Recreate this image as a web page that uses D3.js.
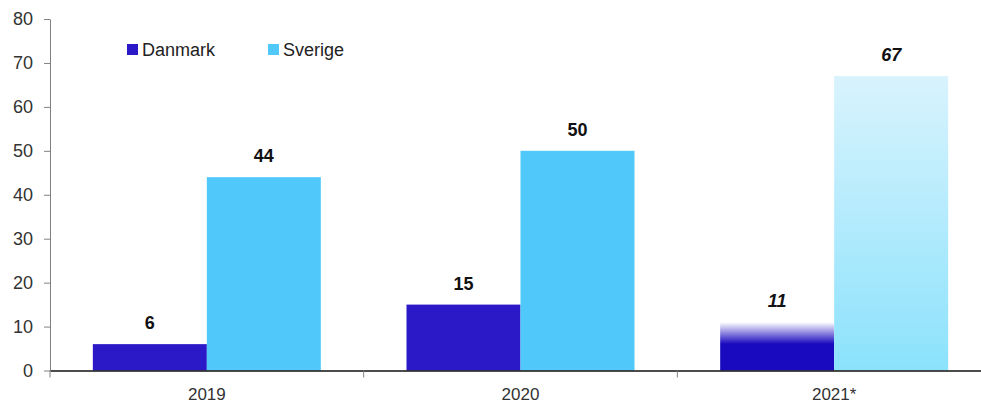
<!DOCTYPE html>
<html><head><meta charset="utf-8">
<script src="https://cdn.jsdelivr.net/npm/d3@7"></script>
<style>body{margin:0;background:#fff}svg{display:block;font-family:"Liberation Sans",Arial,sans-serif}</style>
</head><body><svg id="c" width="981" height="403"></svg>
<script>
const categories = ["2019", "2020", "2021*"];
const seriesNames = ["Danmark", "Sverige"];
const danmark = [6, 15, 11];
const sverige = [44, 50, 67];
const estimated = [false, false, true];
const yTicks = [0, 10, 20, 30, 40, 50, 60, 70, 80];

(function(){
const svg = d3.select("#c");
const mLeft = 50, mRight = 991, mTop = 19, mBottom = 370.5;
const x = d3.scaleBand().domain(categories).range([mLeft, mRight]).paddingInner(0).paddingOuter(0);
const x1 = d3.scaleBand().domain(seriesNames)
  .range([x.bandwidth()/2 - 114, x.bandwidth()/2 + 114]).paddingInner(0).paddingOuter(0);
const y = d3.scaleLinear().domain([0, 80]).range([mBottom, mTop]);

const defs = svg.append("defs");
const gD = defs.append("linearGradient").attr("id","gD").attr("x1",0).attr("y1",0).attr("x2",0).attr("y2",1);
gD.append("stop").attr("offset","0%").attr("stop-color","#ffffff");
gD.append("stop").attr("offset","45%").attr("stop-color","#1a0abf");
gD.append("stop").attr("offset","100%").attr("stop-color","#1a0abf");
const gS = defs.append("linearGradient").attr("id","gS").attr("x1",0).attr("y1",0).attr("x2",0).attr("y2",1);
gS.append("stop").attr("offset","0%").attr("stop-color","#d9f3fd");
gS.append("stop").attr("offset","100%").attr("stop-color","#8be2fc");

const colors = {Danmark:"#2b19c8", Sverige:"#50c9fa"};
const data = [];
categories.forEach((c,i)=>{
  data.push({cat:c, s:"Danmark", v:danmark[i], est:estimated[i]});
  data.push({cat:c, s:"Sverige", v:sverige[i], est:estimated[i]});
});

svg.append("g").selectAll("rect").data(data).join("rect")
  .attr("x", d=>x(d.cat)+x1(d.s))
  .attr("y", d=>y(d.v))
  .attr("width", x1.bandwidth())
  .attr("height", d=>y(0)-y(d.v))
  .attr("fill", d=> d.est ? (d.s==="Danmark"?"url(#gD)":"url(#gS)") : colors[d.s]);

svg.append("g").selectAll("text").data(data).join("text")
  .attr("x", d=>x(d.cat)+x1(d.s)+x1.bandwidth()/2)
  .attr("y", d=>y(d.v)-15)
  .attr("text-anchor","middle")
  .attr("font-size", 18).attr("font-weight","bold")
  .attr("font-style", d=>d.est?"italic":"normal")
  .attr("fill","#111")
  .text(d=>d.v);

const ya = svg.append("g").attr("transform",`translate(${mLeft},0)`)
  .call(d3.axisLeft(y).tickValues(yTicks).tickSize(6).tickSizeOuter(0).tickPadding(11));
ya.select(".domain").attr("stroke","#808080");
ya.selectAll(".tick line").attr("stroke","#808080");
ya.selectAll(".tick text").attr("font-size",18).attr("fill","#333").attr("font-family","Liberation Sans, Arial, sans-serif");

const xa = svg.append("g").attr("transform",`translate(0,${mBottom})`)
  .call(d3.axisBottom(x).tickSize(0).tickPadding(17));
xa.select(".domain").attr("stroke","#111").attr("stroke-width",1.3);
xa.selectAll(".tick text").attr("font-size",17).attr("fill","#333").attr("font-family","Liberation Sans, Arial, sans-serif");
svg.append("g").selectAll("line").data([...categories.map(c=>x(c)), mRight]).join("line")
  .attr("x1",d=>d).attr("x2",d=>d).attr("y1",mBottom).attr("y2",mBottom+7)
  .attr("stroke","#808080");

const legendX = [127, 268];
const lg = svg.append("g").selectAll("g").data(seriesNames).join("g")
  .attr("transform",(d,i)=>`translate(${legendX[i]},44)`);
lg.append("rect").attr("width",11).attr("height",11).attr("fill",d=>colors[d]);
lg.append("text").attr("x",15).attr("y",12).attr("font-size",18).attr("fill","#222").text(d=>d);
})();
</script></body></html>
